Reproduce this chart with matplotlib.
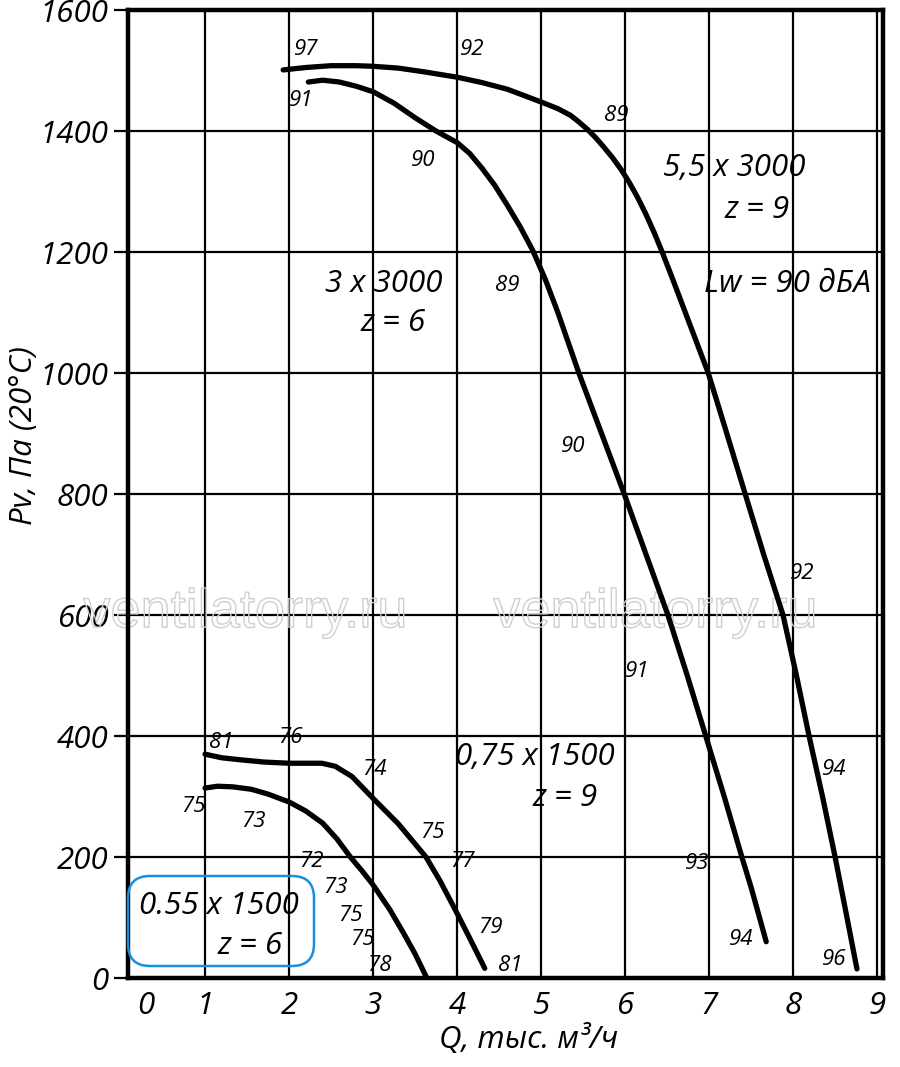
import numpy as np
import matplotlib
matplotlib.use('Agg')
import matplotlib.pyplot as plt
import matplotlib.patheffects as pe
from matplotlib.patches import FancyBboxPatch

plt.rcParams['font.family'] = ['Open Sans', 'DejaVu Sans']
plt.rcParams['font.style'] = 'italic'

# fan curves: Q (thousand m3/h), Pv (Pa)
q_55_3000 = [1.93, 2.2, 2.5, 2.8, 3.0, 3.3, 3.6, 4.0, 4.3, 4.6, 5.0, 5.2, 5.35, 5.45,
             5.55, 5.65, 5.75, 5.85, 5.95, 6.05, 6.15, 6.25, 6.35, 6.45, 6.57, 6.81, 6.99, 7.2,
             7.43, 7.65, 7.88, 8.04, 8.19, 8.35, 8.5, 8.63, 8.76]
p_55_3000 = [1501, 1505, 1508, 1508, 1507, 1504, 1498, 1489, 1480, 1469, 1448, 1437, 1426, 1415,
             1403, 1389, 1373, 1356, 1337, 1315, 1290, 1262, 1231, 1197, 1154, 1066, 1000, 905,
             800, 700, 600, 500, 400, 300, 200, 108, 15]

q_3_3000 = [2.23, 2.4, 2.6, 2.8, 3.0, 3.25, 3.5, 3.75, 4.0, 4.15, 4.3, 4.45, 4.6, 4.75,
            4.9, 5.05, 5.2, 5.45, 5.72, 5.99, 6.25, 6.51, 6.74, 6.96, 7.18, 7.39, 7.5, 7.6, 7.68]
p_3_3000 = [1481, 1484, 1481, 1474, 1465, 1446, 1422, 1400, 1381, 1363, 1338, 1310, 1277, 1242,
            1203, 1155, 1100, 1000, 900, 800, 700, 600, 500, 400, 300, 200, 150, 100, 60]

q_075_1500 = [1.0, 1.2, 1.4, 1.7, 2.0, 2.39, 2.55, 2.75, 3.0, 3.3, 3.63, 3.8, 4.0, 4.15, 4.33]
p_075_1500 = [370, 364, 361, 357, 355, 355, 350, 333, 297, 255, 200, 160, 107, 66, 16]

q_055_1500 = [1.0, 1.15, 1.33, 1.55, 1.75, 2.0, 2.2, 2.4, 2.57, 2.73, 2.87, 3.0, 3.2,
              3.36, 3.5, 3.64]
p_055_1500 = [314, 317, 316, 312, 304, 291, 276, 256, 230, 200, 177, 154, 113,
              75, 40, 0]

curves = [(q_55_3000, p_55_3000), (q_3_3000, p_3_3000),
          (q_075_1500, p_075_1500), (q_055_1500, p_055_1500)]

# noise level labels along the curves
lw_text = ['97', '92', '91', '89', '90', '89', '90', '92', '91', '94', '93', '94', '96',
           '81', '76', '74', '75', '73', '75', '72', '77', '73', '75', '75', '79', '78', '81']
lw_q = [2.21, 4.18, 2.14, 5.90, 3.60, 4.60, 5.38, 8.11, 6.15, 8.49, 6.86, 7.38, 8.49,
        1.19, 2.02, 3.01, 0.86, 1.57, 3.71, 2.27, 4.06, 2.55, 2.73, 2.87, 4.40, 3.08, 4.63]
lw_p = [1534, 1534, 1451, 1425, 1352, 1144, 878, 669, 507, 345, 190, 63, 30,
        390, 398, 345, 284, 258, 241, 192, 192, 149, 104, 63, 83, 21, 21]

# motor / impeller captions
cap_text = ['5,5 x 3000', 'z = 9', 'Lw = 90 дБА', '3 x 3000', 'z = 6',
            '0,75 x 1500', 'z = 9', '0.55 x 1500', 'z = 6']
cap_q = [7.30, 7.57, 7.93, 3.13, 3.24, 4.93, 5.29, 1.17, 1.54]
cap_p = [1339, 1269, 1147, 1147, 1083, 365, 298, 119, 53]

x_grid = [1, 2, 3, 4, 5, 6, 7, 8, 9]
y_ticks = [0, 200, 400, 600, 800, 1000, 1200, 1400, 1600]
x_tick_pos = [0.3, 1, 2, 3, 4, 5, 6, 7, 8, 9]
x_tick_lab = ['0', '1', '2', '3', '4', '5', '6', '7', '8', '9']

fig = plt.figure(figsize=(9, 10.67), dpi=100)
ax = fig.add_axes([0.1422, 0.0834, 0.8389, 0.9072])
ax.set_xlim(0.083, 9.07)
ax.set_ylim(0, 1600)

for x in x_grid:
    ax.axvline(x, color='black', lw=1.6, zorder=1)
for y in y_ticks[1:-1]:
    ax.axhline(y, color='black', lw=1.6, zorder=1)

# watermark
for wq in [1.48, 6.36]:
    ax.text(wq, 603, 'ventilatorry.ru', family='Liberation Sans', style='normal',
            fontsize=39, ha='center', va='center', color=(1, 1, 1, 0), zorder=2,
            path_effects=[pe.Stroke(linewidth=1.0, foreground='#cfcfcf')])

for q, p in curves:
    ax.plot(q, p, color='black', lw=3.8, solid_capstyle='round',
            solid_joinstyle='round', zorder=3)

for t, q, p in zip(lw_text, lw_q, lw_p):
    ax.text(q, p, t, fontsize=16, ha='center', va='center', zorder=4)

for t, q, p in zip(cap_text, cap_q, cap_p):
    ax.text(q, p, t, fontsize=22.5, ha='center', va='center', zorder=4)

# rounded blue frame around the smallest fan caption (figure inches)
box = FancyBboxPatch((1.28 + 0.22, 1.01 + 0.22), 1.86 - 0.44, 0.90 - 0.44,
                     boxstyle='round,pad=0.22', transform=fig.dpi_scale_trans,
                     fill=False, edgecolor='#1a90dc', lw=1.8, zorder=5)
fig.patches.append(box)

for s in ax.spines.values():
    s.set_linewidth(3.2)

ax.set_yticks(y_ticks)
ax.set_yticklabels([str(v) for v in y_ticks])
ax.set_xticks(x_tick_pos)
ax.set_xticklabels(x_tick_lab)
ax.tick_params(axis='y', direction='out', length=10, width=1.6, pad=4, labelsize=22.5)
ax.tick_params(axis='x', direction='out', length=0, pad=9, labelsize=22.5)

ax.set_ylabel('Pv, Па (20°C)', fontsize=22.5)
ax.yaxis.set_label_coords(-0.118, 0.56)
ax.set_xlabel('Q, тыс. м³/ч', fontsize=22.5)
ax.xaxis.set_label_coords(0.53, -0.047)

fig.savefig('out.png', dpi=100)
